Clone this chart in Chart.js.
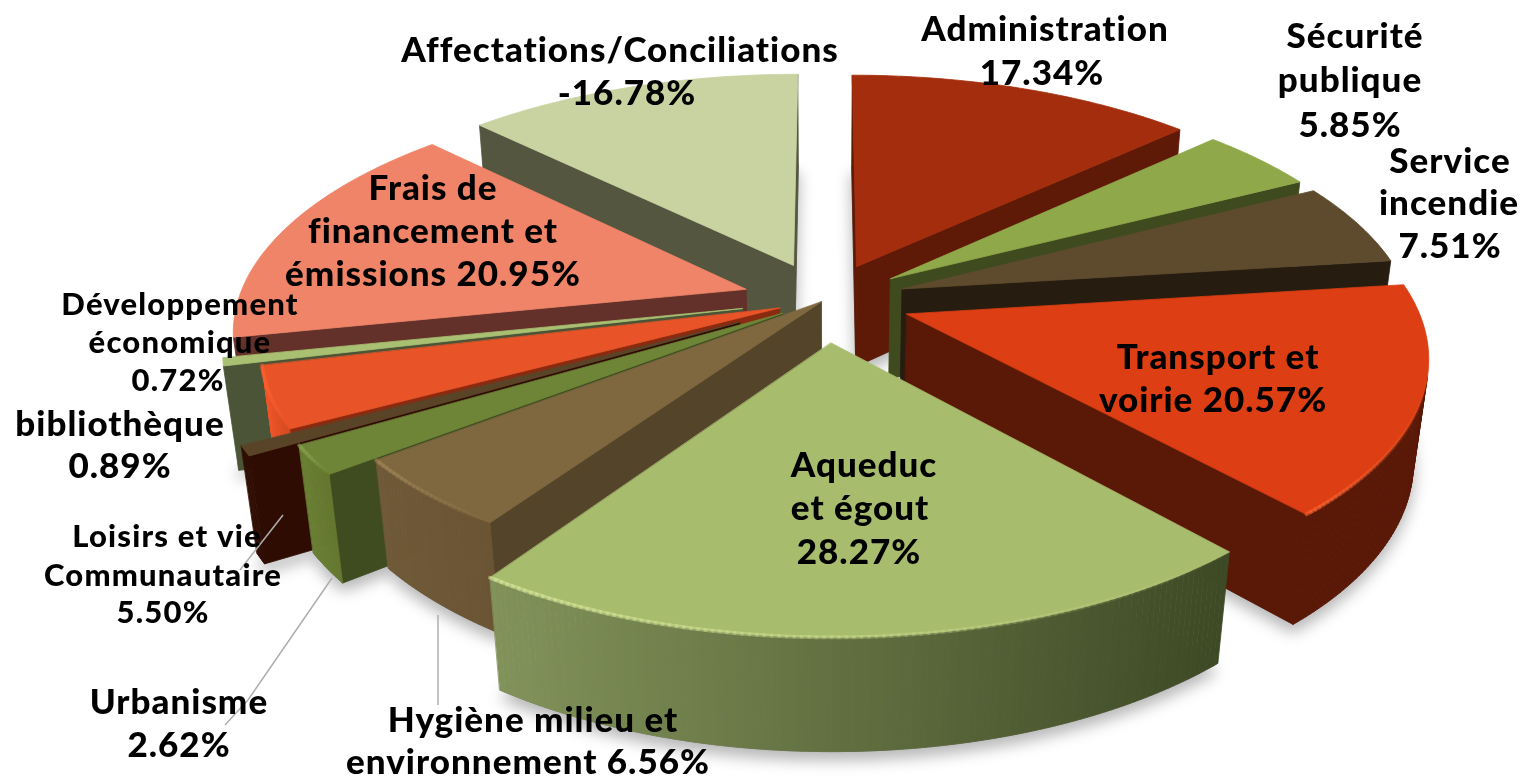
<!DOCTYPE html>
<html><head><meta charset="utf-8">
<style>html,body{margin:0;padding:0;background:#fff;overflow:hidden}#box{width:1540px;height:781px;position:relative}</style>
<script src="https://cdn.jsdelivr.net/npm/chart.js@4"></script>
</head><body><div id="box"><canvas id="c"></canvas></div>
<script>
const categories = ["Administration","Sécurité publique","Service incendie","Transport et voirie","Aqueduc et égout","Hygiène milieu et environnement","Urbanisme","bibliothèque","Loisirs et vie Communautaire","Développement économique","Frais de financement et émissions","Affectations/Conciliations"];
const shares = [17.34,5.85,7.51,20.57,28.27,6.56,2.62,0.89,5.50,0.72,20.95,-16.78];
const topColors = ["#A32D0C","#8FA84A","#5E4B2E","#DD3E13","#A8BC6E","#7F683F","#6E8538","#5A4428","#E85327","#A9C072","#EF8468","#C8D3A1"];
const facetColors = ["#5E1A07","#3F4A1F","#271C10","#5A1806","#5A4A2A","#54452A","#3E4C20","#2E0C02","#8A2A10","#4C5437","#633129","#54563F"];
const wallLeft = ["#5E1A07","#3F4A1F","#271C10","#5A1806","#82935A","#705A38","#6B8135","#2E0C02","#F0562A","#4C5437","#EF8468","#54563F"];
const wallRight = ["#5E1A07","#3F4A1F","#271C10","#5A1806","#3E4925","#6A5434","#64782F","#2E0C02","#D84A20","#4C5437","#EF8468","#54563F"];
const rimGlow = [null,null,null,"#FF6A35","#DCEB9E","#A5895A","#8CA850",null,"#FF6230","#C4D68C",null,null];
const explode = [0.16,0.16,0.16,0.17,0.18,0.01,0.1,0.19,0.095,0.165,0.163,0.165];
const labelLines = [
 ["Administration","{v}"],["Sécurité","publique","{v}"],["Service","incendie","{v}"],["Transport et","voirie {v}"],
 ["Aqueduc","et égout","{v}"],["Hygiène milieu et","environnement {v}"],["Urbanisme","{v}"],["bibliothèque","{v}"],
 ["Loisirs et vie","Communautaire","{v}"],["Développement","économique","{v}"],["Frais de","financement et","émissions {v}"],["Affectations/Conciliations","{v}"]];
const labelX = [[1045,1042],[1355,1350,1350],[1450,1449,1450],[1218,1213],[864,860,859],[533,528],[179,179],[120,120],[167,163,163],[180,180,178],[433,433,433],[620,627]];
const labelY = [[41,85],[48,92,137],[173,215,258],[369,412],[477,520,564],[732,774],[714,757],[436,478],[547,586,623],[315,353,391],[200,243,286],[62,105]];
const labelSize = [35,35,35,35,35,35,35,35,31,31,35,35];
const labelSpacing = [1,1,1,1,1,1,1,1,1.2,1.2,1,1];
const leaders = [[[283,515],[240,570]],[[332,578],[248,700],[225,725]],[[438,615],[438,705]]];

const CX=825,CY=300,A=508,B=232,C=104,P=0.16,Q=0.025;
const proj=(u,v,z)=>{const w=1-P*v+Q*z;return [CX+A*u/w,CY+(B*v+C*z)/w];};
const hex=h=>[1,3,5].map(i=>parseInt(h.substr(i,2),16));
const mix=(a,b,t)=>{const x=hex(a),y=hex(b);return `rgb(${x.map((c,i)=>Math.round(c+(y[i]-c)*t)).join(",")})`;};
function poly(ctx,pts,color){ctx.beginPath();pts.forEach((p,i)=>i?ctx.lineTo(p[0],p[1]):ctx.moveTo(p[0],p[1]));ctx.closePath();ctx.fillStyle=color;ctx.fill();ctx.strokeStyle=color;ctx.lineWidth=0.8;ctx.stroke();}
const area=pts=>{let s=0;pts.forEach((p,i)=>{const q=pts[(i+1)%pts.length];s+=p[0]*q[1]-q[0]*p[1];});return s/2;};
function build(el,i){
 const mid=(el.startAngle+el.endAngle)/2,e=explode[i],ox=Math.cos(mid)*e,oy=Math.sin(mid)*e;
 const n=Math.max(3,Math.ceil((el.endAngle-el.startAngle)/0.012)),T=[],D=[];
 for(let k=0;k<=n;k++){const a=el.startAngle+(el.endAngle-el.startAngle)*k/n,u=Math.cos(a)+ox,v=Math.sin(a)+oy;T.push(proj(u,v,0));D.push(proj(u,v,1));}
 return {i,mid,T,D,at:proj(ox,oy,0),ad:proj(ox,oy,1)};
}
const pie3d={id:"pie3d",
 beforeDatasetDraw(chart){
  const ctx=chart.ctx,arcs=chart.getDatasetMeta(0).data,s=arcs.map(build);
  ctx.save();
  ctx.shadowColor="rgba(0,0,0,0.30)";ctx.shadowBlur=16;ctx.shadowOffsetY=8;
  s.forEach(o=>poly(ctx,[o.ad,...o.D],"#888"));
  ctx.shadowColor="transparent";ctx.shadowBlur=0;ctx.shadowOffsetY=0;
  s.slice().sort((a,b)=>Math.sin(a.mid)-Math.sin(b.mid)).forEach(o=>{
   const i=o.i,n=o.T.length-1;
   const f0=[o.T[0],o.at,o.ad,o.D[0]],f1=[o.at,o.T[n],o.D[n],o.ad];
   if(area(f0)>0)poly(ctx,f0,facetColors[i]);
   if(area(f1)>0)poly(ctx,f1,facetColors[i]);
   const xs=o.T.map(p=>p[0]),x0=Math.min(...xs),x1=Math.max(...xs);
   const vis=[];
   for(let k=0;k<n;k++){const q=[o.T[k+1],o.T[k],o.D[k],o.D[k+1]];
    if(area(q)>0){const t=(o.T[k][0]-x0)/Math.max(1,x1-x0);poly(ctx,q,mix(wallLeft[i],wallRight[i],t));vis.push([k,t]);}}
   poly(ctx,[o.at,...o.T],topColors[i]);
   if(rimGlow[i]){ctx.lineCap="round";vis.forEach(([k,t])=>{ctx.beginPath();ctx.moveTo(...o.T[k]);ctx.lineTo(...o.T[k+1]);ctx.strokeStyle=rimGlow[i];ctx.globalAlpha=0.5*(1-t*0.95);ctx.lineWidth=4;ctx.stroke();});ctx.globalAlpha=1;}
  });
  ctx.restore();
  return false;
 },
 afterDraw(chart){
  const ctx=chart.ctx;ctx.save();
  ctx.strokeStyle="#AEAEAE";ctx.lineWidth=1.5;
  leaders.forEach(l=>{ctx.beginPath();l.forEach((p,i)=>i?ctx.lineTo(p[0],p[1]):ctx.moveTo(p[0],p[1]));ctx.stroke();});
  ctx.fillStyle="#000";ctx.textAlign="center";ctx.textBaseline="alphabetic";
  labelLines.forEach((lines,i)=>{ctx.font=`900 ${labelSize[i]}px Lato`;ctx.letterSpacing=labelSpacing[i]+"px";
   lines.forEach((t,j)=>ctx.fillText(t.replace("{v}",shares[i].toFixed(2)+"%"),labelX[i][j],labelY[i][j]));});
  ctx.restore();
 }};
new Chart(document.getElementById("c"),{type:"pie",plugins:[pie3d],
 data:{labels:categories,datasets:[{data:shares,backgroundColor:topColors,borderWidth:0}]},
 options:{responsive:true,maintainAspectRatio:false,animation:false,layout:{padding:0},plugins:{legend:{display:false},tooltip:{enabled:false}}}});
</script></body></html>
